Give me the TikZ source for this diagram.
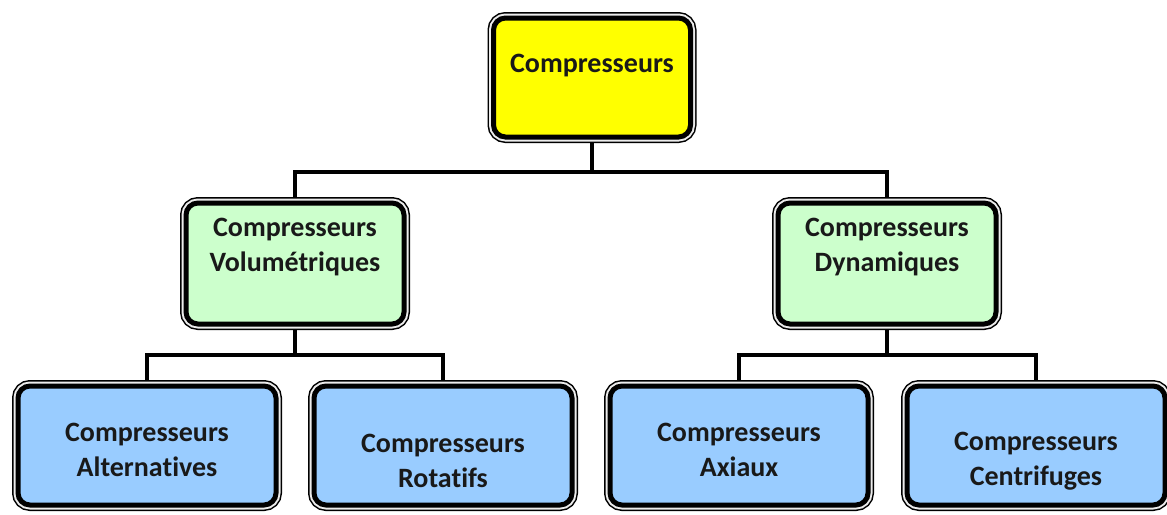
\documentclass[tikz,border=0pt]{standalone}
\usepackage{fontspec}
\setmainfont[Ligatures=NoCommon]{Carlito}
\usetikzlibrary{backgrounds}
\definecolor{topyellow}{HTML}{FFFF00}
\definecolor{midgreen}{HTML}{CCFFCC}
\definecolor{lowblue}{HTML}{99CCFF}
\tikzset{
  box/.style={rectangle, rounded corners=6pt, draw=black, line width=2.5pt,
    preaction={draw=black, line width=6pt},
    preaction={draw=gray!15, line width=4.5pt},
    inner sep=0pt},
  txt/.style={font=\bfseries\fontsize{14}{17.5}\selectfont, align=center, text=black!90},
  link/.style={line width=2pt}
}
\begin{document}
\begin{tikzpicture}[x=0.5pt, y=-0.5pt]
\useasboundingbox (0,0) rectangle (1167,514);

% boxes
\node[box, fill=topyellow, minimum width=98.5pt, minimum height=59.5pt] (comp) at (592,77.5) {};
\node[box, fill=midgreen, minimum width=109pt, minimum height=60.5pt] (vol) at (295,263.5) {};
\node[box, fill=midgreen, minimum width=109pt, minimum height=60.5pt] (dyn) at (887,263.5) {};
\node[box, fill=lowblue, minimum width=129pt, minimum height=59.5pt] (alt) at (147,445.5) {};
\node[box, fill=lowblue, minimum width=129pt, minimum height=59.5pt] (rot) at (443,445.5) {};
\node[box, fill=lowblue, minimum width=129pt, minimum height=59.5pt] (axi) at (739,445.5) {};
\node[box, fill=lowblue, minimum width=129pt, minimum height=59.5pt] (cen) at (1036,445.5) {};

% connectors, behind the boxes
\coordinate (j1) at (592,172);
\coordinate (j2) at (295,355);
\coordinate (j3) at (887,355);
\begin{scope}[on background layer]
\draw[link] (comp.south) -- (j1) -| (vol.north);
\draw[link] (j1) -| (dyn.north);
\draw[link] (vol.south) -- (j2) -| (alt.north);
\draw[link] (j2) -| (rot.north);
\draw[link] (dyn.south) -- (j3) -| (axi.north);
\draw[link] (j3) -| (cen.north);
\end{scope}

% texts
\node[txt] (comp-t) at (592,66) {Compresseurs};
\node[txt] (vol-t) at (295,247.5) {Compresseurs\\Volumétriques};
\node[txt] (dyn-t) at (887,247.5) {Compresseurs\\Dynamiques};
\node[txt] (alt-t) at (147,449.5) {Compresseurs\\Alternatives};
\node[txt] (rot-t) at (443,461) {Compresseurs\\Rotatifs};
\node[txt] (axi-t) at (739,449.5) {Compresseurs\\Axiaux};
\node[txt] (cen-t) at (1036,461) {Compresseurs\\Centrifuges};

\end{tikzpicture}
\end{document}
